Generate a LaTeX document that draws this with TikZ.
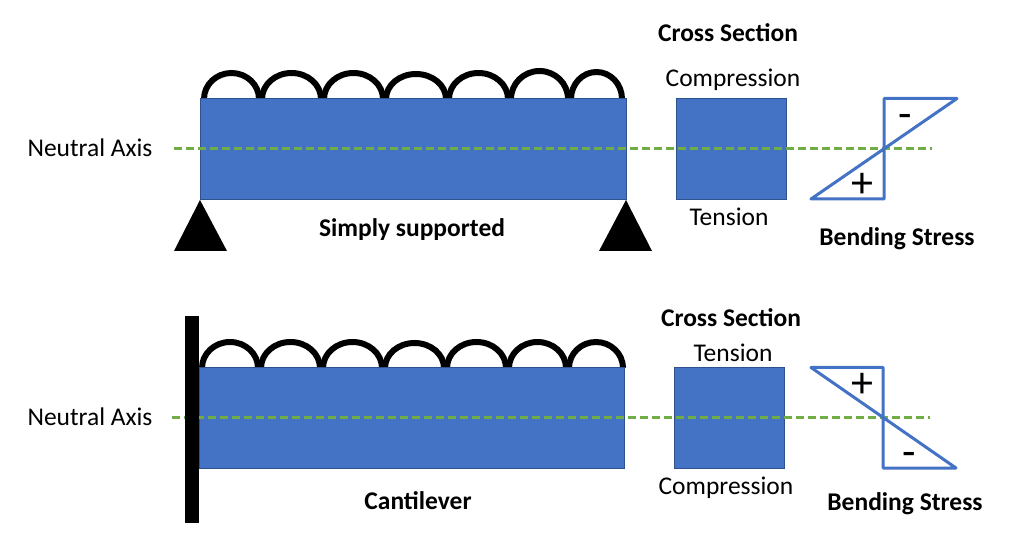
\documentclass[tikz,border=0pt]{standalone}
\usepackage{fontspec}
\setmainfont{Carlito}
\usetikzlibrary{arrows}
\definecolor{beamblue}{HTML}{4472C4}
\definecolor{beamedge}{HTML}{2F528F}
\definecolor{axisgreen}{HTML}{70AD47}

\begin{document}
\begin{tikzpicture}[x=1pt,y=-1pt,
	beam node/.style={rectangle,draw=beamedge,fill=beamblue,line width=1pt,inner sep=0pt,minimum height=101pt},
	label node/.style={inner sep=0pt,font=\fontsize{25.5}{30}\selectfont},
	title node/.style={inner sep=0pt,font=\fontsize{25.5}{30}\selectfont\bfseries},
	sign node/.style={inner sep=0pt,font=\fontsize{44}{48}\selectfont},
	axis line/.style={axisgreen,line width=3pt,dash pattern=on 8pt off 4pt},
	stress line/.style={beamblue,line width=3pt,line join=round,line cap=round},
	load line/.style={black,line width=6pt}]
	
	\useasboundingbox (0,0) rectangle (1015,545);
	
	% simply supported
	\foreach \xa/\xb/\yy in {203/261/73,261/323/73,323/385/73,385/448/74,448/510/73,510/570/71,570/624/72}
		\draw[load line] (\xa+1,99) arc[start angle=180,end angle=0,x radius={(\xb-\xa-3)/2*1pt},y radius={(99-\yy)*1pt}];
	\node[beam node, minimum width=426pt] (beam1) at (413,149) {};
	\node[beam node, minimum width=110pt] (sect1) at (731,149) {};
	\fill (200,200) -- (227,251) -- (174,251) -- cycle;
	\fill (626,200) -- (652,251) -- (599,251) -- cycle;
	\coordinate (axis1a) at (174,148.5);
	\coordinate (axis1b) at (932,148.5);
	\draw[axis line] (axis1a) -- (axis1b);
	\draw[stress line] (957,98.5) -- (884,98.5) -- (884,199) -- (811,199) -- cycle;
	
	\node[label node] (na1) at (90,148) {Neutral Axis};
	\node[title node] (ss) at (412,230) {Simply supported};
	\node[title node] (cs1) at (728,33) {Cross Section};
	\node[label node] (comp1) at (733,80) {Compression};
	\node[label node] (tens1) at (729,217) {Tension};
	\node[title node] (bs1) at (897,239) {Bending Stress};
	\node[sign node] (minus1) at (905,121) {-};
	\node[sign node] (plus1) at (862,185) {+};
	
	% cantilever
	\foreach \xa/\xb/\yy in {201/260/342,260/322/342,322/384/342,384/446/343,446/508/342,508/568/342,568/625/342}
		\draw[load line] (\xa+1,368) arc[start angle=180,end angle=0,x radius={(\xb-\xa-3)/2*1pt},y radius={(368-\yy)*1pt}];
	\node[beam node, minimum width=425pt] (beam2) at (411.5,418) {};
	\node[beam node, minimum width=110pt] (sect2) at (729,418) {};
	\coordinate (axis2a) at (172,417.5);
	\coordinate (axis2b) at (930,417.5);
	\draw[axis line] (axis2a) -- (axis2b);
	\fill (185,316) rectangle (199,523);
	\draw[stress line] (811,367.5) -- (883,367.5) -- (883,468) -- (956,468) -- cycle;
	
	\node[label node] (na2) at (90,417) {Neutral Axis};
	\node[title node] (cl) at (418,501) {Cantilever};
	\node[title node] (cs2) at (731,318) {Cross Section};
	\node[label node] (tens2) at (733,353) {Tension};
	\node[label node] (comp2) at (726,488) {Compression};
	\node[title node] (bs2) at (905,504) {Bending Stress};
	\node[sign node] (plus2) at (862,385) {+};
	\node[sign node] (minus2) at (909,459) {-};
\end{tikzpicture}
\end{document}
